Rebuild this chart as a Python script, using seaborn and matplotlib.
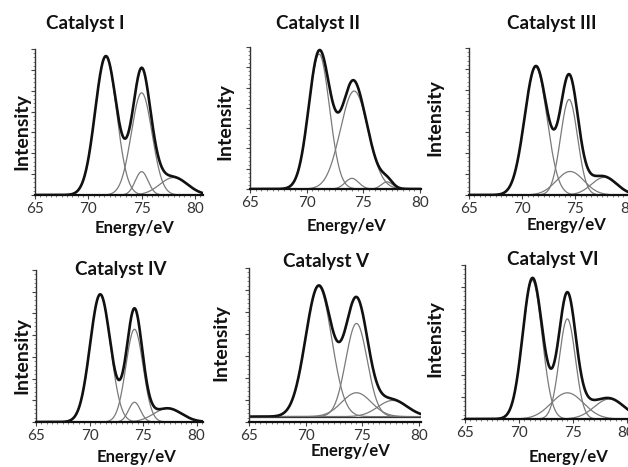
import numpy as np
import pandas as pd
import matplotlib
matplotlib.use("Agg")
import matplotlib.pyplot as plt
import seaborn as sns
from matplotlib.ticker import MultipleLocator, FixedLocator

sns.set_theme(style="white")
plt.rcParams['font.family'] = ['Lato', 'DejaVu Sans']

# ---------------- data ----------------
catalysts = ["Catalyst I", "Catalyst II", "Catalyst III",
             "Catalyst IV", "Catalyst V", "Catalyst VI"]
x_ticks = [65, 70, 75, 80]
x_label = "Energy/eV"
y_label = "Intensity"

# fitted components: peak centre (eV), peak height (norm.), width sigma (eV)
centers_I = [71.64, 75.0, 75.0, 78.0]
heights_I = [0.95, 0.70, 0.16, 0.12]
widths_I = [1.0, 0.97, 0.60, 1.30]

centers_II = [71.1, 74.2, 74.0, 77.1]
heights_II = [0.95, 0.69, 0.075, 0.05]
widths_II = [0.92, 1.22, 0.60, 0.50]

centers_III = [71.27, 74.4, 74.5, 77.7]
heights_III = [0.87, 0.65, 0.16, 0.12]
widths_III = [1.05, 0.80, 1.30, 1.20]

centers_IV = [71.0, 74.2, 74.2, 77.3]
heights_IV = [0.84, 0.61, 0.13, 0.09]
widths_IV = [0.95, 0.80, 0.55, 1.30]

centers_V = [71.15, 74.5, 74.5, 77.7]
heights_V = [0.845, 0.605, 0.155, 0.105]
widths_V = [1.15, 0.95, 1.30, 1.30]

centers_VI = [71.25, 74.5, 74.5, 78.4]
heights_VI = [0.90, 0.65, 0.17, 0.13]
widths_VI = [0.90, 0.75, 1.50, 1.40]

baselines = [0.0, 0.0, 0.0, 0.0, 0.035, 0.0]

all_centers = [centers_I, centers_II, centers_III, centers_IV, centers_V, centers_VI]
all_heights = [heights_I, heights_II, heights_III, heights_IV, heights_V, heights_VI]
all_widths = [widths_I, widths_II, widths_III, widths_IV, widths_V, widths_VI]

# ---------------- layout (pixels) ----------------
W, H = 628, 467
panel_px = [(35, 49, 203, 195), (250, 47, 421, 189), (469, 48, 634, 195),
            (36, 270, 203, 422), (249, 268, 421, 422), (465, 265, 632, 419)]
x_max = [80.75, 80.1, 80.5, 80.6, 80.2, 80.5]
title_px = [(85, 23), (318, 23), (552, 23), (121, 269), (326, 262), (553, 260)]
ylabel_px = [(22, 132), (225, 122), (435, 118), (22, 356), (221, 343), (435, 339)]
xlabel_px = [(135, 228), (347, 226), (567, 225), (136, 457), (351, 451), (568, 457)]


def fx(x):
    return x / W


def fy(y):
    return 1 - y / H


fig = plt.figure(figsize=(W / 100, H / 100), dpi=100)
fig.patch.set_facecolor("white")

for i, name in enumerate(catalysts):
    l, t, r, b = panel_px[i]
    ax = fig.add_axes([l / W, 1 - b / H, (r - l) / W, (b - t) / H])
    ax.set_facecolor("white")

    energy = np.linspace(65, x_max[i], 600)
    base = baselines[i]
    rows = []
    total = np.full_like(energy, base)
    for k, (c, h, w) in enumerate(zip(all_centers[i], all_heights[i], all_widths[i])):
        comp = h * np.exp(-0.5 * ((energy - c) / w) ** 2)
        total = total + comp
        rows.append(pd.DataFrame({"energy": energy, "intensity": comp + base,
                                  "curve": f"c{k}"}))
    comps = pd.concat(rows, ignore_index=True)
    env = pd.DataFrame({"energy": energy, "intensity": total})

    sns.lineplot(data=comps, x="energy", y="intensity", hue="curve",
                 palette=["#7a7a7a"] * len(all_centers[i]), linewidth=0.9,
                 legend=False, ax=ax, estimator=None, sort=False)
    sns.lineplot(data=env, x="energy", y="intensity", color="#111111",
                 linewidth=1.9, ax=ax, estimator=None, sort=False)
    if base > 0:
        ax.axhline(base, color="#333333", lw=0.9)

    ax.set_xlim(65, x_max[i])
    ax.set_ylim(0, 1.0)
    ax.set_xlabel("")
    ax.set_ylabel("")
    ax.xaxis.set_major_locator(FixedLocator(x_ticks))
    ax.xaxis.set_minor_locator(MultipleLocator(0.5))
    ax.yaxis.set_major_locator(FixedLocator(np.linspace(0, 1, 8)))
    ax.yaxis.set_minor_locator(FixedLocator(np.linspace(0, 1, 36)))
    ax.set_yticklabels([])
    ax.tick_params(axis="x", which="major", length=3, width=0.8, color="#444444",
                   labelsize=11, labelcolor="#333333", pad=2, direction="out", bottom=True)
    ax.tick_params(axis="x", which="minor", length=1.5, width=0.6, color="#666666",
                   direction="out", bottom=True)
    ax.tick_params(axis="y", which="major", length=3, width=0.8, color="#444444",
                   direction="out", left=True)
    ax.tick_params(axis="y", which="minor", length=1.5, width=0.6, color="#777777",
                   direction="out", left=True)
    for s in ["top", "right"]:
        ax.spines[s].set_visible(False)
    ax.spines["left"].set_color("#333333")
    ax.spines["left"].set_linewidth(1.0)
    ax.spines["bottom"].set_color("#111111")
    ax.spines["bottom"].set_linewidth(1.6)

    tx, ty = title_px[i]
    fig.text(fx(tx), fy(ty), name, ha="center", va="center",
             fontsize=13.5, fontweight="bold", color="#111111")
    yx, yy = ylabel_px[i]
    fig.text(fx(yx), fy(yy), y_label, ha="center", va="center", rotation=90,
             fontsize=14, fontweight="bold", color="#111111")
    xx, xy = xlabel_px[i]
    fig.text(fx(xx), fy(xy), x_label, ha="center", va="center",
             fontsize=12, fontweight="bold", color="#111111")

fig.savefig("out.png", dpi=100, facecolor="white")
